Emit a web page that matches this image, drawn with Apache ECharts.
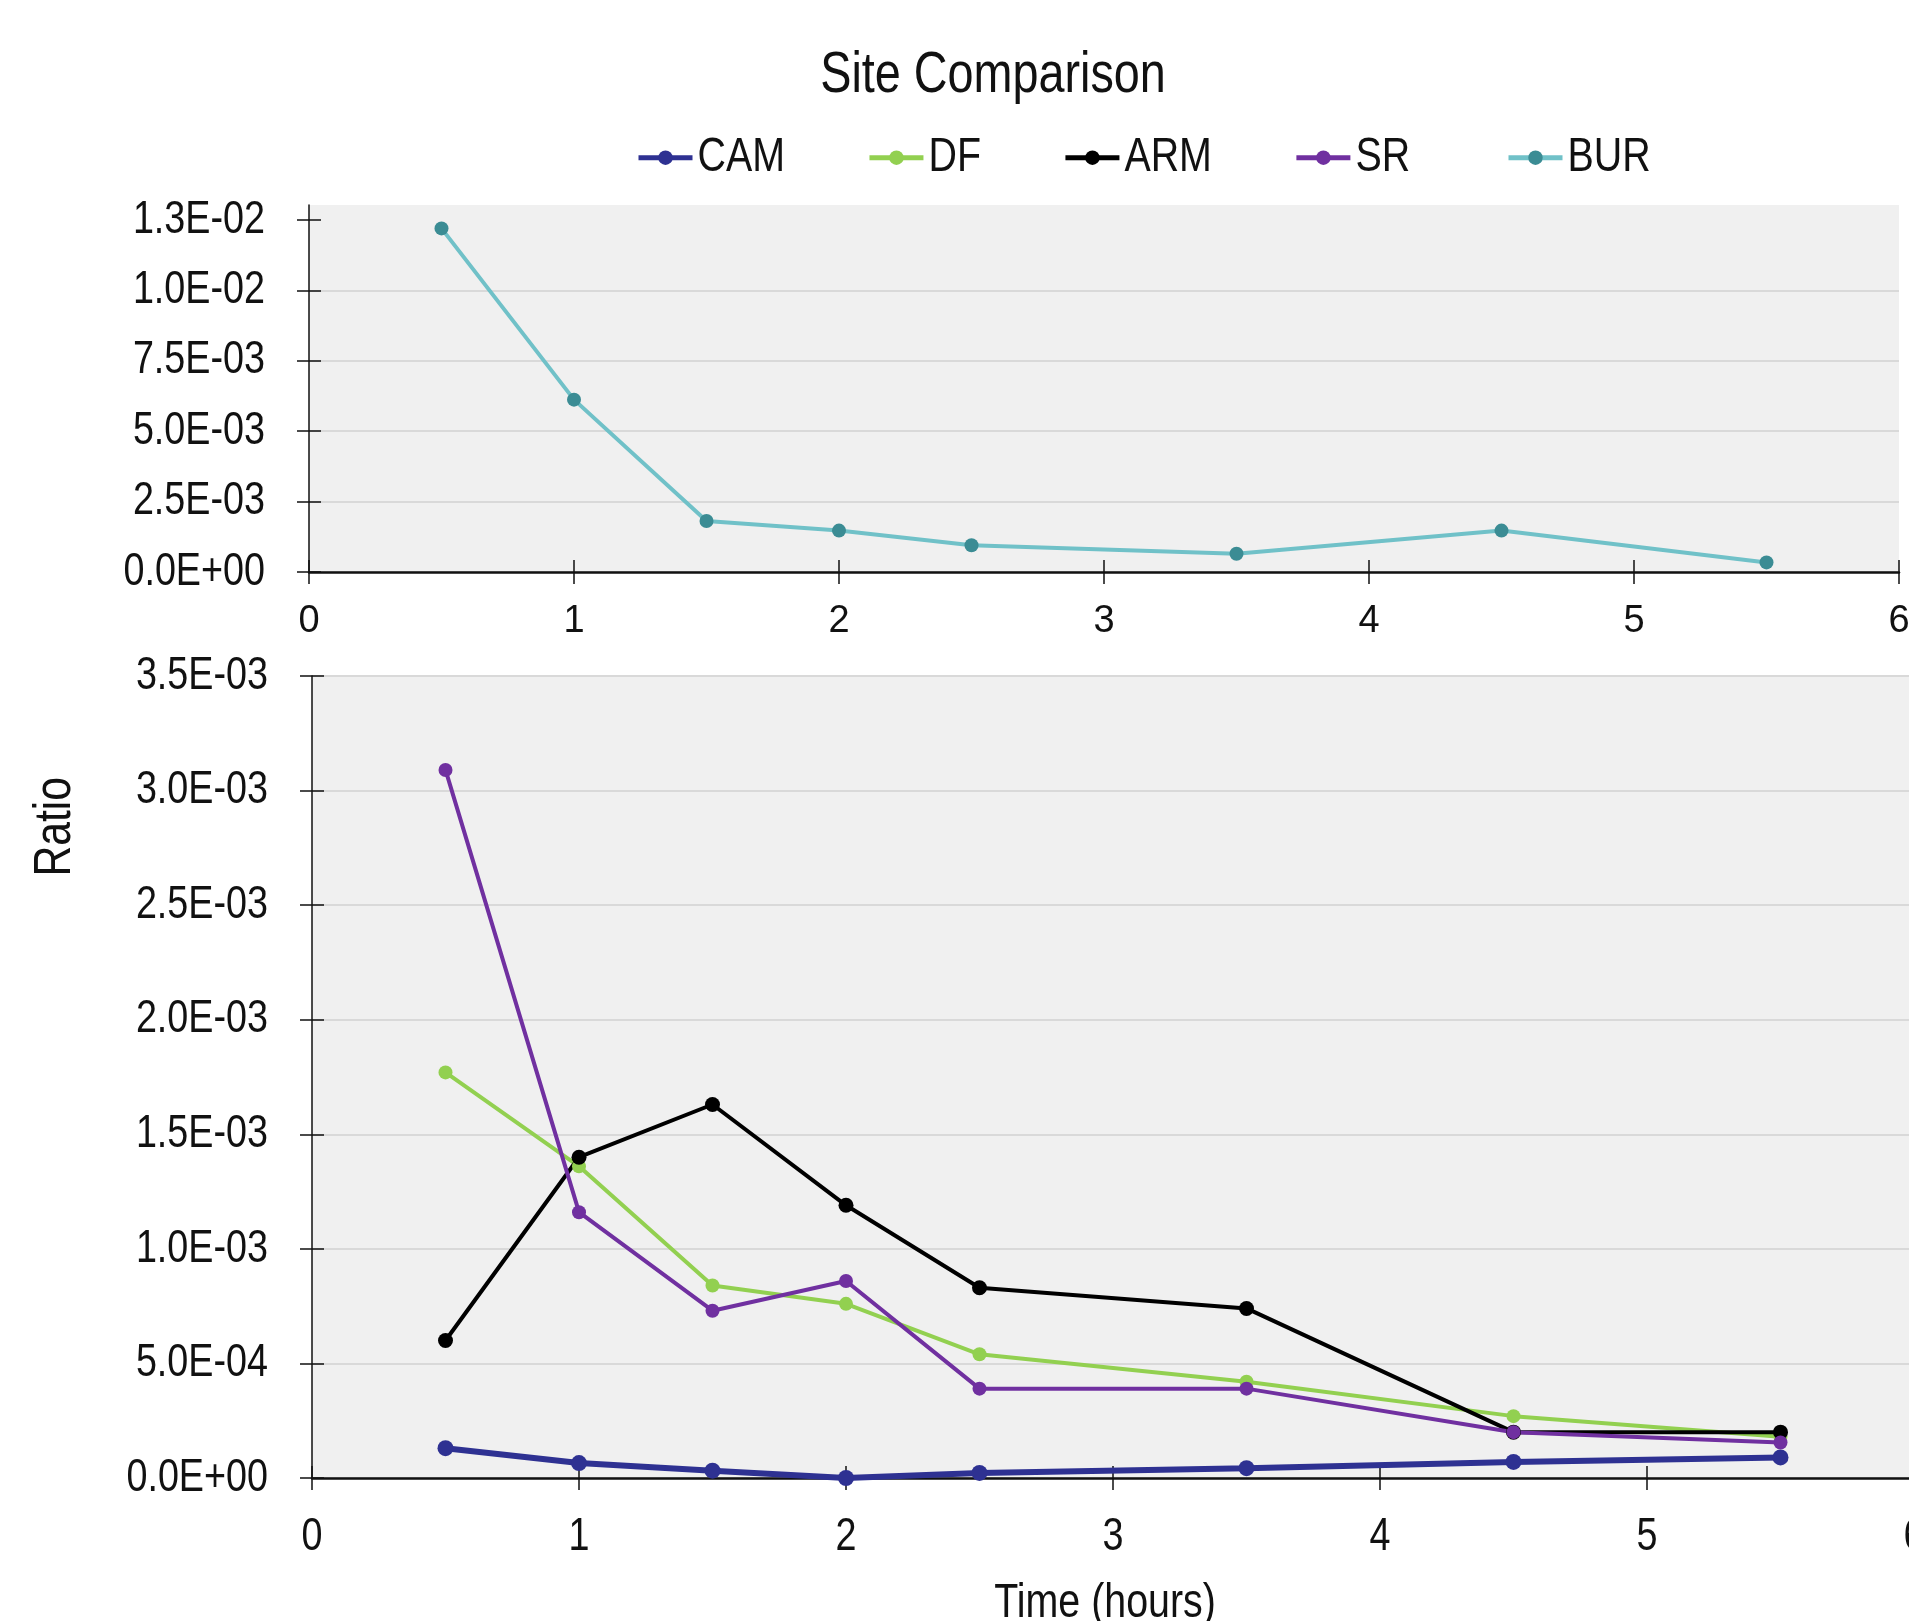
<!DOCTYPE html>
<html>
<head>
<meta charset="utf-8">
<script src="https://cdn.jsdelivr.net/npm/echarts@6/dist/echarts.min.js"></script>
<style>
  html, body { margin: 0; padding: 0; background: #fff; }
  #chart { width: 1909px; height: 1621px; }
</style>
</head>
<body>
<div id="chart"></div>
<script>
// time points (hours)
const hours = [0.5, 1, 1.5, 2, 2.5, 3.5, 4.5, 5.5];
const siteNames = ['CAM', 'DF', 'ARM', 'SR', 'BUR'];
// ratios
const cam = [1.3e-4, 6.5e-5, 3.2e-5, 0, 2.2e-5, 4.3e-5, 7.0e-5, 9.0e-5];
const df  = [1.77e-3, 1.36e-3, 8.4e-4, 7.6e-4, 5.4e-4, 4.2e-4, 2.7e-4, 1.8e-4];
const arm = [6.0e-4, 1.40e-3, 1.63e-3, 1.19e-3, 8.3e-4, 7.4e-4, 2.0e-4, 2.0e-4];
const sr  = [3.09e-3, 1.16e-3, 7.3e-4, 8.6e-4, 3.9e-4, 3.9e-4, 2.0e-4, 1.55e-4];
const bur = [1.22e-2, 6.12e-3, 1.81e-3, 1.47e-3, 9.5e-4, 6.5e-4, 1.47e-3, 3.4e-4];
// tick labels
const topTicks = [0, 0.0025, 0.005, 0.0075, 0.01, 0.0125];

// the original uses a narrow (Arial Narrow like) face; squeeze Liberation Sans to match.
// text set in "Arial" (only the small top axis numbers) is left at normal width
const NARROW = 0.82;
const proto = CanvasRenderingContext2D.prototype;
const fillText0 = proto.fillText;
const measure0 = proto.measureText;
const squeeze = ctx => (/Arial/.test(ctx.font) ? 1 : NARROW);
proto.fillText = function (t, x, y, w) {
  const k = squeeze(this);
  this.save();
  this.translate(x, y);
  this.scale(k, 1);
  if (w === undefined) fillText0.call(this, t, 0, 0);
  else fillText0.call(this, t, 0, 0, w / k);
  this.restore();
};
proto.measureText = function (t) {
  const m = measure0.call(this, t);
  const k = squeeze(this);
  return {
    width: m.width * k,
    actualBoundingBoxAscent: m.actualBoundingBoxAscent,
    actualBoundingBoxDescent: m.actualBoundingBoxDescent,
    actualBoundingBoxLeft: m.actualBoundingBoxLeft * k,
    actualBoundingBoxRight: m.actualBoundingBoxRight * k,
    fontBoundingBoxAscent: m.fontBoundingBoxAscent,
    fontBoundingBoxDescent: m.fontBoundingBoxDescent
  };
};

const FONT = "'Liberation Sans', sans-serif";
const WIDE = "Arial, 'Liberation Sans', sans-serif";
const pts = arr => hours.map((h, i) => [h, arr[i]]);

function sci(v) {
  if (Math.abs(v) < 1e-12) return '0.0E+00';
  const parts = v.toExponential(1).split('e');
  const n = parseInt(parts[1], 10);
  return parts[0] + 'E' + (n < 0 ? '-' : '+') + String(Math.abs(n)).padStart(2, '0');
}

const mychart = echarts.init(document.getElementById('chart'));

const xBase = (grid, fs, margin, family) => ({
  type: 'value', gridIndex: grid, min: 0, max: 6, interval: 1, position: 'bottom',
  axisLine: { lineStyle: { color: '#111', width: 2.5 } },
  axisTick: { length: 12, lineStyle: { color: '#111', width: 1.5 } },
  axisLabel: { color: '#111', fontSize: fs, fontFamily: family, margin: margin },
  splitLine: { show: false }
});
// second axes only carry the inner half of the crossing ticks (they sit on zero)
const xInner = grid => ({
  type: 'value', gridIndex: grid, min: 0, max: 6, interval: 1, position: 'top',
  axisLine: { show: false, onZero: true },
  axisTick: { length: 12, lineStyle: { color: '#111', width: 1.5 } },
  axisLabel: { show: false },
  splitLine: { show: false }
});
const yInner = (grid, max, interval, custom) => ({
  type: 'value', gridIndex: grid, min: 0, max: max, interval: interval, position: 'right',
  axisLine: { show: false, onZero: true },
  axisTick: { show: true, length: 12, customValues: custom, lineStyle: { color: '#111', width: 1.5 } },
  axisLabel: { show: false }, splitLine: { show: false }
});

const legendBase = {
  top: 138, padding: 0,
  itemWidth: 54, itemHeight: 18, itemGap: 82,
  lineStyle: { width: 5 },
  textStyle: { fontSize: 48, color: '#111', fontFamily: FONT }
};

const option = {
  animation: false,
  backgroundColor: '#fff',
  textStyle: { fontFamily: FONT },
  title: {
    text: 'Site Comparison',
    left: 993, top: 53, padding: 0, textAlign: 'center',
    textStyle: { fontSize: 57, fontWeight: 'normal', color: '#111', fontFamily: FONT }
  },
  legend: [
    Object.assign({ data: siteNames.slice(0, 4), left: 636 }, legendBase),
    Object.assign({ data: siteNames.slice(4), left: 1506 }, legendBase)
  ],
  graphic: [{
    type: 'text', left: 34, top: 777, rotation: Math.PI / 2,
    style: { text: 'Ratio', fontSize: 52, fontFamily: FONT, fill: '#111' }
  }],
  grid: [
    {
      left: 309, right: 10, top: 205, height: 367, outerBoundsMode: 'none',
      show: true, backgroundColor: '#f0f0f0', borderWidth: 0
    },
    {
      left: 312, right: -5, top: 676, bottom: 143, outerBoundsMode: 'none',
      show: true, backgroundColor: '#f0f0f0', borderWidth: 0
    }
  ],
  xAxis: [
    xBase(0, 38, 31, WIDE), xInner(0),
    Object.assign(xBase(1, 46, 40, FONT), {
      name: 'Time (hours)', nameLocation: 'middle', nameGap: 106,
      nameTextStyle: { fontSize: 48, color: '#111', fontFamily: FONT, padding: [0, 16, 0, 0] }
    }),
    xInner(1)
  ],
  yAxis: [
    {
      type: 'value', gridIndex: 0, min: 0, max: 0.01303, interval: 0.0025,
      axisLine: { show: true, lineStyle: { color: '#111', width: 1.5 } },
      axisTick: { show: true, length: 12, customValues: topTicks, lineStyle: { color: '#111', width: 1.5 } },
      axisLabel: { customValues: topTicks, formatter: sci, color: '#111', fontSize: 46, fontFamily: FONT, margin: 44 },
      splitLine: { show: true, showMaxLine: false, lineStyle: { color: '#d9d9d9', width: 2 } }
    },
    yInner(0, 0.01303, 0.0025, topTicks),
    {
      type: 'value', gridIndex: 1, min: 0, max: 0.0035, interval: 0.0005,
      axisLine: { show: true, lineStyle: { color: '#111', width: 1.5 } },
      axisTick: { show: true, length: 12, lineStyle: { color: '#111', width: 1.5 } },
      axisLabel: { formatter: sci, color: '#111', fontSize: 46, fontFamily: FONT, margin: 44 },
      splitLine: { show: true, lineStyle: { color: '#d9d9d9', width: 2 } }
    },
    yInner(1, 0.0035, 0.0005, undefined)
  ],
  series: [
    {
      name: 'CAM', type: 'line', xAxisIndex: 2, yAxisIndex: 2, data: pts(cam),
      symbol: 'circle', symbolSize: 16,
      lineStyle: { color: '#2e3192', width: 6 }, itemStyle: { color: '#2e3192' }
    },
    {
      name: 'DF', type: 'line', xAxisIndex: 2, yAxisIndex: 2, data: pts(df),
      symbol: 'circle', symbolSize: 14,
      lineStyle: { color: '#92d050', width: 4 }, itemStyle: { color: '#92d050' }
    },
    {
      name: 'ARM', type: 'line', xAxisIndex: 2, yAxisIndex: 2, data: pts(arm),
      symbol: 'circle', symbolSize: 15,
      lineStyle: { color: '#000000', width: 4 }, itemStyle: { color: '#000000' }
    },
    {
      name: 'SR', type: 'line', xAxisIndex: 2, yAxisIndex: 2, data: pts(sr),
      symbol: 'circle', symbolSize: 14,
      lineStyle: { color: '#7030a0', width: 4 }, itemStyle: { color: '#7030a0' }
    },
    {
      name: 'BUR', type: 'line', xAxisIndex: 0, yAxisIndex: 0, data: pts(bur),
      symbol: 'circle', symbolSize: 14,
      lineStyle: { color: '#70c1c8', width: 4 }, itemStyle: { color: '#3b8c94' }
    }
  ]
};

mychart.setOption(option);
window.addEventListener('resize', function () {
  mychart.resize();
});
</script>
</body>
</html>
